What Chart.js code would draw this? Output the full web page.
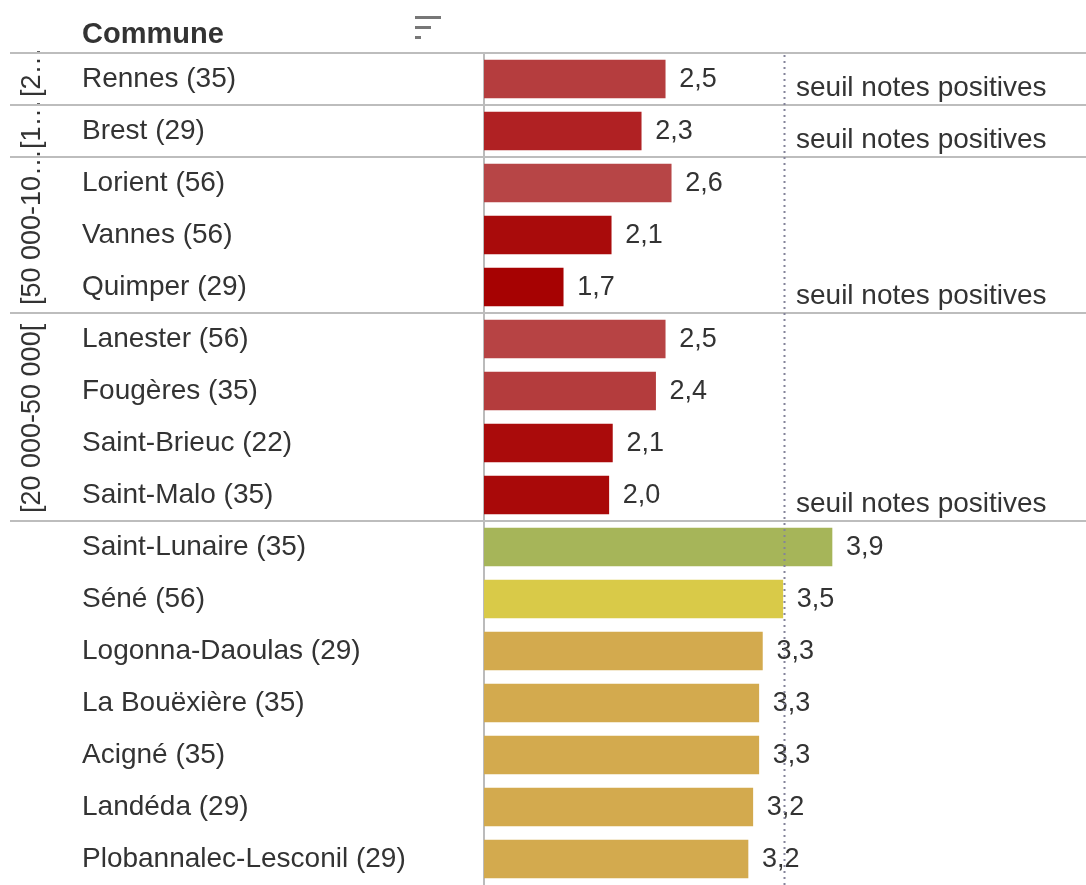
<!DOCTYPE html>
<html>
<head>
<meta charset="utf-8">
<script src="https://cdn.jsdelivr.net/npm/chart.js@4"></script>
<style>
  body { margin: 0; background: #fff; }
  #box { width: 1086px; height: 885px; position: relative; }
</style>
</head>
<body>
<div id="box"><canvas id="notes"></canvas></div>
<script>
var communes = ['Rennes (35)', 'Brest (29)', 'Lorient (56)', 'Vannes (56)', 'Quimper (29)',
    'Lanester (56)', 'Fougères (35)', 'Saint-Brieuc (22)', 'Saint-Malo (35)',
    'Saint-Lunaire (35)', 'Séné (56)', 'Logonna-Daoulas (29)', 'La Bouëxière (35)',
    'Acigné (35)', 'Landéda (29)', 'Plobannalec-Lesconil (29)'];
var notes = [2.51, 2.31, 2.56, 2.06, 1.66, 2.51, 2.43, 2.07, 2.04, 3.90, 3.49, 3.32, 3.29, 3.29, 3.24, 3.20];
var tranches = ['[2…', '[1…', '[50 000-10…', '[50 000-10…', '[50 000-10…',
    '[20 000-50 000[', '[20 000-50 000[', '[20 000-50 000[', '[20 000-50 000[',
    '', '', '', '', '', '', ''];
var couleurs = ['#b53d3e', '#b02123', '#b74546', '#a90b0b', '#a60202', '#b74344', '#b43c3d',
    '#aa0b0b', '#a90909', '#a6b559', '#d9ca48', '#d3aa4e', '#d3aa4e', '#d3aa4e', '#d3aa4e', '#d3aa4e'];
var seuil = 3.5;
var seuilTexte = 'seuil notes positives';

var police = "'Liberation Sans', Arial, sans-serif";

function virgule(v) {
    return v.toFixed(1).replace('.', ',');
}

// limites des groupes (index du dernier de chaque tranche)
function finsDeGroupe() {
    var fins = [];
    for (var i = 0; i < tranches.length; i++) {
        if (i == tranches.length - 1 || tranches[i + 1] != tranches[i]) fins.push(i);
    }
    return fins;
}

var decor = {
    id: 'decor',
    beforeDatasetsDraw: function (chart) {
        var ctx = chart.ctx, y = chart.scales.y, x = chart.scales.x;
        var pas = y.getPixelForValue(1) - y.getPixelForValue(0);
        ctx.save();
        // en-tete
        ctx.fillStyle = '#333';
        ctx.font = 'bold 29px ' + police;
        ctx.textBaseline = 'middle';
        ctx.textAlign = 'left';
        ctx.fillText('Commune', 82, 35);
        ctx.fillStyle = '#777';
        ctx.fillRect(415, 16, 26, 3);
        ctx.fillRect(415, 26, 16, 3);
        ctx.fillRect(415, 36, 6, 3);
        // separateurs
        ctx.strokeStyle = '#bdbdbd';
        ctx.lineWidth = 2;
        var haut = y.getPixelForValue(0) - pas / 2;
        ctx.beginPath();
        ctx.moveTo(10, haut); ctx.lineTo(1086, haut);
        finsDeGroupe().forEach(function (fin) {
            var bas = y.getPixelForValue(fin) + pas / 2;
            if (fin < tranches.length - 1) {
                ctx.moveTo(10, bas); ctx.lineTo(1086, bas);
            }
            var t = tranches[fin];
            if (t) {
                // libelle de tranche, vertical
                ctx.save();
                ctx.translate(33, bas - 8);
                ctx.rotate(-Math.PI / 2);
                ctx.fillStyle = '#333';
                ctx.font = '27px ' + police;
                ctx.textAlign = 'left';
                ctx.textBaseline = 'middle';
                ctx.fillText(t, 0, 0);
                ctx.restore();
                // libelle du seuil
                ctx.fillStyle = '#333';
                ctx.font = '28px ' + police;
                ctx.textAlign = 'left';
                ctx.textBaseline = 'middle';
                ctx.fillText(seuilTexte, x.getPixelForValue(seuil) + 12, bas - 17);
            }
        });
        ctx.stroke();
        ctx.restore();
    },
    afterDatasetsDraw: function (chart) {
        var ctx = chart.ctx, x = chart.scales.x;
        ctx.save();
        ctx.fillStyle = '#333';
        ctx.font = '27px ' + police;
        ctx.textAlign = 'left';
        ctx.textBaseline = 'middle';
        chart.getDatasetMeta(0).data.forEach(function (bar, i) {
            ctx.fillText(virgule(notes[i]), bar.x + 14, bar.y + 1);
        });
        // ligne de seuil
        var px = Math.round(x.getPixelForValue(seuil)) + 0.5;
        ctx.strokeStyle = '#84849a';
        ctx.lineWidth = 2;
        ctx.setLineDash([2, 4]);
        ctx.beginPath();
        ctx.moveTo(px, chart.chartArea.top + 2);
        ctx.lineTo(px, chart.chartArea.bottom);
        ctx.stroke();
        ctx.restore();
    }
};

new Chart(document.getElementById('notes'), {
    type: 'bar',
    data: {
        labels: communes,
        datasets: [{
            label: 'Note',
            data: notes,
            backgroundColor: couleurs,
            borderWidth: 0,
            barThickness: 38
        }]
    },
    options: {
        indexAxis: 'y',
        responsive: true,
        maintainAspectRatio: false,
        animation: false,
        layout: { padding: { left: 82, top: 53, right: 2, bottom: 0 } },
        plugins: {
            legend: { display: false },
            tooltip: { enabled: false }
        },
        scales: {
            x: {
                display: false,
                min: 1,
                max: 6
            },
            y: {
                afterFit: function (scale) {
                    scale.width = 402;
                    scale.paddingTop = 0;
                    scale.paddingBottom = 0;
                },
                grid: { display: false, drawTicks: false },
                border: { display: true, color: '#bbbbbb', width: 2 },
                ticks: {
                    crossAlign: 'far',
                    color: '#333',
                    font: { family: police, size: 28 },
                    padding: 0
                }
            }
        }
    },
    plugins: [decor]
});
</script>
</body>
</html>
